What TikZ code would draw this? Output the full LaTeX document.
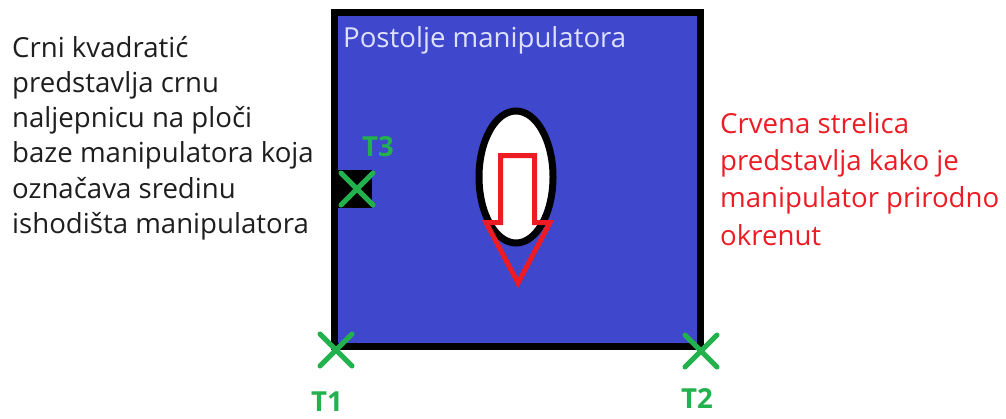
\documentclass[tikz,border=0pt]{standalone}
\usepackage{fontspec}
\setmainfont{Open Sans}
\usetikzlibrary{shapes.geometric}
\definecolor{indigo}{RGB}{63,72,204}
\definecolor{zelena}{RGB}{34,177,76}
\definecolor{crvena}{RGB}{237,28,36}
\definecolor{lavanda}{RGB}{222,224,255}
\tikzset{
  oznaka/.style={zelena, line width=5pt, line cap=round},
  tlabel/.style={text=zelena, font=\fontsize{27.6}{30}\selectfont\bfseries},
  opis/.style={align=left, anchor=base west, inner sep=0pt, font=\fontsize{27.6}{#1}\selectfont},
  opis/.default=36,
}
\begin{document}
\begin{tikzpicture}[x=1pt, y=-1pt]
  \useasboundingbox (0,0) rectangle (1006,418);

  % postolje i naljepnica
  \node (postolje) [draw, fill=indigo, line width=7pt, minimum width=366, minimum height=334, inner sep=0] at (517,179) {};
  \node (naljepnica) [fill=black, minimum width=35, minimum height=38, inner sep=0] at (354.5,189) {};
  \node[opis, text=lavanda] (naslov) at (343,47) {Postolje manipulatora};

  % elipsa i crvena strelica
  \node (elipsa) [ellipse, draw, fill=white, line width=7pt, minimum width=74, minimum height=132, inner sep=0] at (516,177) {};
  \draw[crvena, line width=5pt, line join=miter]
    (500.5,222.5) -- (500.5,155.5) -- (534.5,155.5) -- (534.5,222.5)
    -- (550,222.5) -- (518,283) -- (486,222.5) -- cycle;

  % oznake T1, T2, T3
  \coordinate (t1) at (336,350);
  \coordinate (t2) at (701,351);
  \coordinate (t3) at (357,189);
  \foreach \t in {t1,t2,t3}
    \draw[oznaka] (\t) ++(-16,16) -- ++(32,-32) (\t) ++(-16,-16) -- ++(32,32);
  \node[tlabel] (l1) at (327,402) {T1};
  \node[tlabel] (l2) at (697,398) {T2};
  \node[tlabel] (l3) at (378,147) {T3};

  % opisi (sidro je osnovna linija zadnjeg retka)
  \node[opis=35.3, text={rgb,255:red,30;green,30;blue,30}] (lijevo) at (12,233.5)
    {Crni kvadratić\\predstavlja crnu\\naljepnicu na ploči\\baze manipulatora koja\\označava sredinu\\ishodišta manipulatora};
  \node[opis=37.2, text=crvena] (desno) at (720,245)
    {Crvena strelica\\predstavlja kako je\\manipulator prirodno\\okrenut};
\end{tikzpicture}
\end{document}
